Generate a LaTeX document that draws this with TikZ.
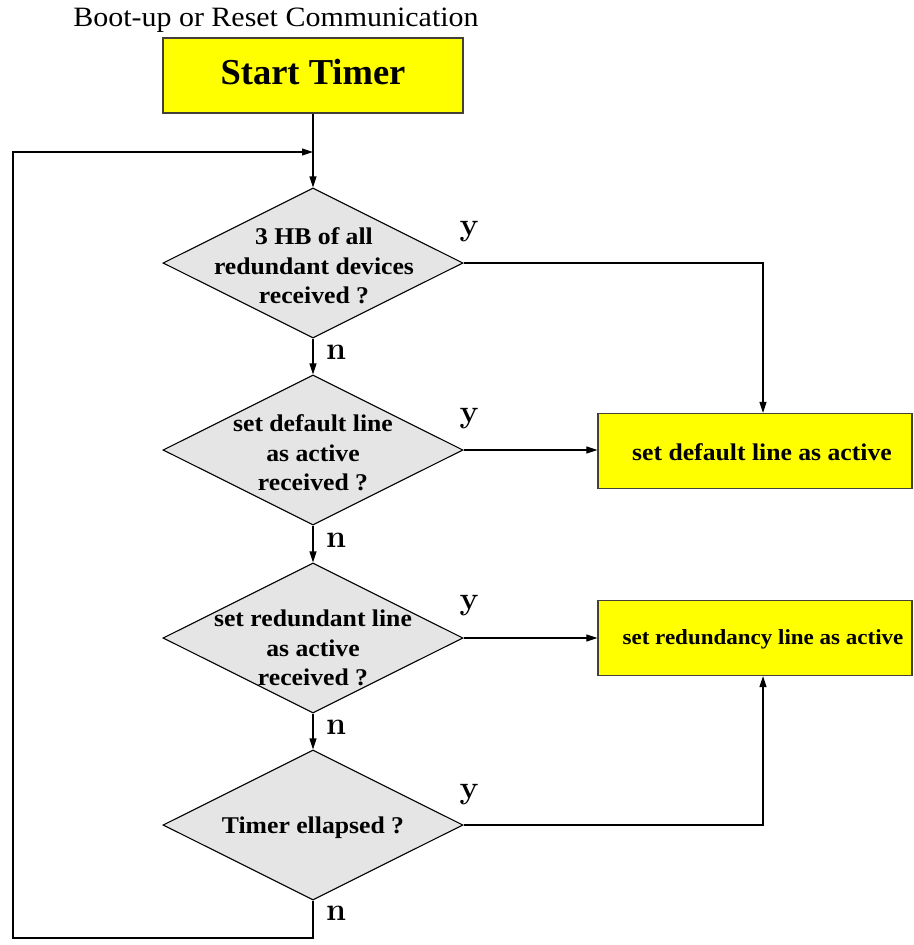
\documentclass[tikz,border=0pt]{standalone}
\usepackage{fontspec}
\usetikzlibrary{shapes.geometric,arrows.meta}
\newfontfamily\timesfont{Liberation Serif}
\newfontfamily\timeswide[FakeStretch=1.07]{Liberation Serif}
\definecolor{boxyellow}{HTML}{FFFF00}
\definecolor{diagrey}{HTML}{E5E5E5}
\begin{document}
\begin{tikzpicture}[x=1pt,y=-1pt,
  line width=1.1pt,
  arr/.style={-{Triangle[length=11pt,width=7pt]}},
  actbox/.style={draw=black!85!yellow, line width=1.3pt, fill=boxyellow, minimum width=314pt, minimum height=75pt, inner sep=0pt},
  dia/.style={draw, fill=diagrey, shape=diamond, minimum width=300pt, minimum height=150pt, inner sep=0pt},
  diatext/.style={align=center, font=\timeswide\fontsize{24}{29.5}\selectfont\bfseries},
  boxtext/.style={font=\timeswide\fontsize{24}{26}\selectfont\bfseries},
  yn/.style={font=\fontsize{32}{32}\selectfont\bfseries, inner sep=0pt}]
\useasboundingbox (0,0) rectangle (913,945);

% heading and first action
\node[font=\timeswide\fontsize{28}{30}\selectfont] (title) at (276,20) {Boot-up or Reset Communication};
\node[actbox, minimum width=300pt] (start) at (313,75.5) {};
\node[font=\timesfont\fontsize{36.5}{40}\selectfont\bfseries] (starttxt) at (313,72) {Start Timer};

% decisions
\node[dia] (d1) at (313,263) {};
\node[diatext] (t1) at (314,266) {3 HB of all\\redundant devices\\received ?};
\node[dia] (d2) at (313,450) {};
\node[diatext] (t2) at (313,453) {set default line\\as active\\received ?};
\node[dia] (d3) at (313,638) {};
\node[diatext] (t3) at (313,648) {set redundant line\\as active\\received ?};
\node[dia] (d4) at (313,825) {};
\node[diatext] (t4) at (313,828) {Timer ellapsed ?};

% actions
\node[actbox] (b1) at (755,451) {};
\node[boxtext] (b1txt) at (762,452) {set default line as active};
\node[actbox] (b2) at (755,638) {};
\node[boxtext, font=\timeswide\fontsize{21.5}{26}\selectfont\bfseries] (b2txt) at (763,639) {set redundancy line as active};

% branch labels
\node[yn] (y1) at (469,232) {y};
\node[yn] (y2) at (469,419) {y};
\node[yn] (y3) at (469,606) {y};
\node[yn] (y4) at (469,795) {y};
\node[yn] (n1) at (336,352) {n};
\node[yn] (n2) at (336,540) {n};
\node[yn] (n3) at (336,727) {n};
\node[yn] (n4) at (336,913) {n};

% loop-back route
\coordinate (join) at (313,152);
\coordinate (lb) at (13,938);
\coordinate (lt) at (13,152);

% connectors
\draw[arr] (start.south) -- (d1.north);
\draw[arr] (d1.south) -- (d2.north);
\draw[arr] (d2.south) -- (d3.north);
\draw[arr] (d3.south) -- (d4.north);
\draw[arr] (d1.east) -| ([xshift=8pt]b1.north);
\draw[arr] (d2.east) -- (d2.east -| b1.west);
\draw[arr] (d3.east) -- (d3.east -| b2.west);
\draw[arr] (d4.east) -| ([xshift=8pt]b2.south);
\draw[arr] (d4.south) |- (lb) -- (lt) -- (join);
\end{tikzpicture}
\end{document}
